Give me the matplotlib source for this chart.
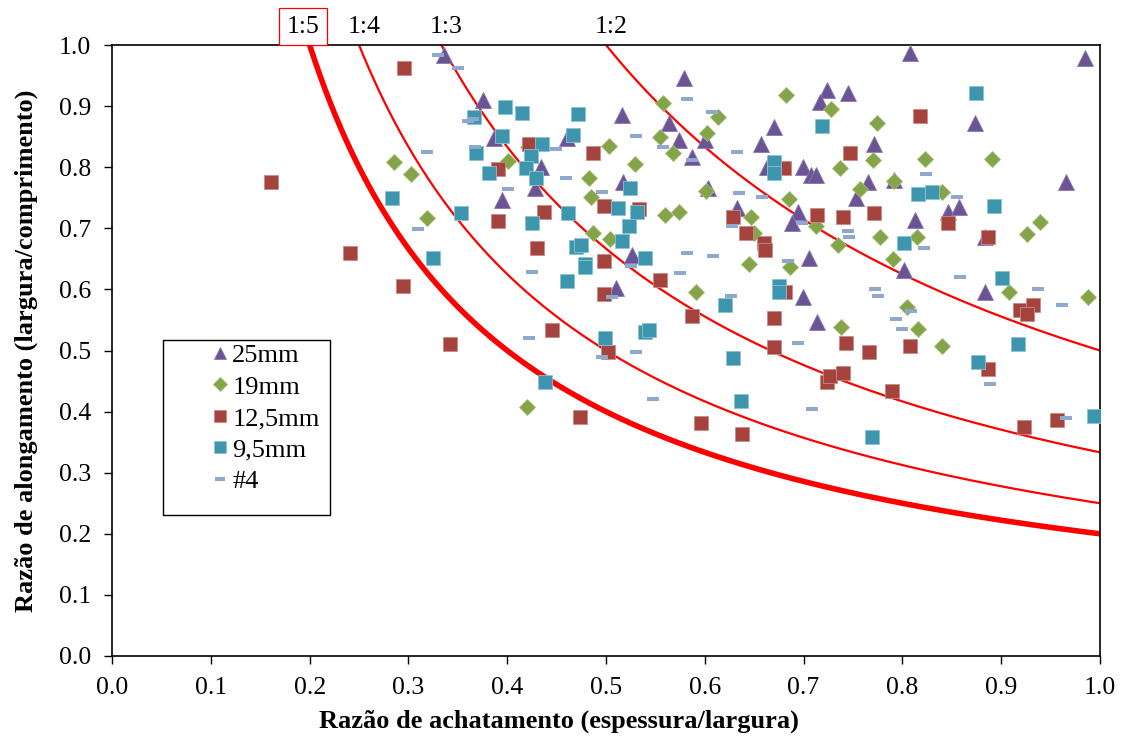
import numpy as np
import matplotlib.pyplot as plt
from matplotlib.patches import Rectangle

plt.rcParams['font.family'] = ['Liberation Serif', 'DejaVu Serif']

# 25mm (triangles)
x25 = [0.336, 0.375, 0.387, 0.461, 0.434, 0.428, 0.395, 0.579, 0.516, 0.564, 0.574, 0.600,
       0.587, 0.670, 0.657, 0.724, 0.717, 0.745, 0.663, 0.699, 0.707, 0.713, 0.517, 0.603,
       0.633, 0.694, 0.688, 0.526, 0.510, 0.705, 0.699, 0.714, 0.808, 0.985, 0.873, 0.771,
       0.765, 0.753, 0.791, 0.966, 0.846, 0.857, 0.813, 0.884, 0.802, 0.884]
y25 = [0.984, 0.910, 0.848, 0.848, 0.800, 0.766, 0.747, 0.946, 0.886, 0.872, 0.845, 0.845,
       0.817, 0.866, 0.838, 0.926, 0.907, 0.922, 0.800, 0.800, 0.788, 0.788, 0.775, 0.766,
       0.734, 0.727, 0.709, 0.657, 0.603, 0.652, 0.588, 0.547, 0.987, 0.979, 0.873, 0.838,
       0.775, 0.750, 0.779, 0.776, 0.727, 0.735, 0.714, 0.685, 0.632, 0.595]

# 19mm (diamonds)
x19 = [0.285, 0.303, 0.319, 0.401, 0.421, 0.503, 0.483, 0.485, 0.487, 0.420, 0.558, 0.682,
       0.728, 0.613, 0.555, 0.602, 0.568, 0.529, 0.737, 0.601, 0.685, 0.560, 0.574, 0.647,
       0.650, 0.713, 0.735, 0.504, 0.645, 0.686, 0.591, 0.738, 0.774, 0.770, 0.823, 0.891,
       0.792, 0.757, 0.840, 0.939, 0.926, 0.777, 0.815, 0.790, 0.908, 0.988, 0.805, 0.816,
       0.840]
y19 = [0.809, 0.789, 0.717, 0.810, 0.833, 0.835, 0.783, 0.752, 0.693, 0.407, 0.905, 0.918,
       0.895, 0.882, 0.850, 0.856, 0.824, 0.806, 0.799, 0.761, 0.748, 0.722, 0.727, 0.719,
       0.693, 0.703, 0.673, 0.683, 0.641, 0.637, 0.596, 0.539, 0.873, 0.812, 0.814, 0.814,
       0.778, 0.765, 0.760, 0.711, 0.690, 0.685, 0.686, 0.649, 0.596, 0.587, 0.572, 0.536,
       0.508]

# 12,5mm (squares)
x125 = [0.161, 0.241, 0.296, 0.391, 0.422, 0.487, 0.391, 0.437, 0.430, 0.295, 0.445, 0.342,
        0.498, 0.498, 0.498, 0.474, 0.502, 0.533, 0.629, 0.642, 0.660, 0.661, 0.680, 0.714,
        0.740, 0.747, 0.555, 0.587, 0.681, 0.670, 0.670, 0.724, 0.727, 0.740, 0.596, 0.638,
        0.818, 0.771, 0.846, 0.887, 0.919, 0.932, 0.926, 0.743, 0.766, 0.808, 0.887, 0.789,
        0.923, 0.956]
y125 = [0.775, 0.660, 0.962, 0.797, 0.838, 0.823, 0.712, 0.727, 0.667, 0.606, 0.533, 0.511,
        0.737, 0.647, 0.593, 0.391, 0.498, 0.732, 0.719, 0.693, 0.676, 0.665, 0.799, 0.722,
        0.719, 0.824, 0.616, 0.556, 0.595, 0.554, 0.505, 0.449, 0.458, 0.464, 0.382, 0.364,
        0.884, 0.725, 0.709, 0.685, 0.567, 0.574, 0.559, 0.513, 0.498, 0.508, 0.469, 0.433,
        0.374, 0.387]

# 9,5mm (squares)
x95 = [0.366, 0.398, 0.415, 0.472, 0.467, 0.395, 0.368, 0.435, 0.424, 0.419, 0.429, 0.382,
       0.283, 0.353, 0.425, 0.462, 0.325, 0.470, 0.475, 0.479, 0.479, 0.461, 0.499, 0.438,
       0.524, 0.512, 0.531, 0.523, 0.516, 0.539, 0.670, 0.670, 0.675, 0.675, 0.719, 0.620,
       0.539, 0.544, 0.629, 0.637, 0.874, 0.816, 0.830, 0.893, 0.802, 0.901, 0.917, 0.877,
       0.769, 0.994]
y95 = [0.882, 0.898, 0.889, 0.887, 0.853, 0.851, 0.823, 0.838, 0.819, 0.799, 0.783, 0.791,
       0.750, 0.725, 0.709, 0.725, 0.652, 0.670, 0.672, 0.642, 0.637, 0.614, 0.520, 0.449,
       0.766, 0.734, 0.727, 0.703, 0.680, 0.652, 0.809, 0.791, 0.605, 0.595, 0.868, 0.574,
       0.531, 0.534, 0.487, 0.417, 0.922, 0.756, 0.760, 0.737, 0.676, 0.618, 0.510, 0.482,
       0.359, 0.392]

# #4 (dashes)
x4 = [0.330, 0.350, 0.360, 0.365, 0.367, 0.319, 0.449, 0.460, 0.401, 0.496, 0.310, 0.425,
      0.422, 0.496, 0.582, 0.607, 0.530, 0.558, 0.587, 0.633, 0.635, 0.658, 0.698, 0.628,
      0.745, 0.746, 0.582, 0.608, 0.684, 0.575, 0.525, 0.506, 0.627, 0.694, 0.530, 0.548,
      0.708, 0.824, 0.855, 0.822, 0.858, 0.772, 0.775, 0.937, 0.962, 0.809, 0.794, 0.800,
      0.889, 0.966]
y4 = [0.984, 0.962, 0.876, 0.879, 0.833, 0.825, 0.830, 0.783, 0.765, 0.760, 0.699, 0.629,
      0.521, 0.490, 0.912, 0.891, 0.851, 0.833, 0.812, 0.825, 0.758, 0.752, 0.709, 0.703,
      0.696, 0.685, 0.660, 0.654, 0.647, 0.627, 0.639, 0.587, 0.590, 0.513, 0.498, 0.421,
      0.405, 0.789, 0.752, 0.667, 0.621, 0.600, 0.590, 0.601, 0.574, 0.565, 0.552, 0.536,
      0.446, 0.389]

# aspect ratio curves y = k / x
ratios = [0.2, 0.25, 1 / 3, 0.5]
ratio_labels = ['1:5', '1:4', '1:3', '1:2']

fig = plt.figure(figsize=(11.26, 7.43), dpi=100)
ax = fig.add_axes([0.0995, 0.1171, 0.8774, 0.8223])

for k, lab in zip(ratios, ratio_labels):
    xs = np.linspace(k, 1.0, 300)
    lw = 4.0 if lab == '1:5' else 1.6
    ax.plot(xs, k / xs, color='#ff0000', lw=lw, zorder=1, solid_capstyle='butt')
    if lab == '1:5':
        ax.text(k - 0.007, 1.03, lab, ha='center', va='center', fontsize=18.5, clip_on=False,
                bbox=dict(boxstyle='square,pad=0.3', fc='white', ec='#ff0000', lw=0.9))
    else:
        ax.text(k + 0.005, 1.03, lab, ha='center', va='center', fontsize=18.5, clip_on=False)

dash = [(-1, -0.38), (1, -0.38), (1, 0.38), (-1, 0.38), (-1, -0.38)]
ax.plot(x25, y25, ls='none', marker='^', ms=11, mfc='#6b5494', mec='#8a78ad', mew=0.6,
        label='25mm', zorder=3)
ax.plot(x19, y19, ls='none', marker='D', ms=8, mfc='#84a449', mec='#a2bd73', mew=0.6,
        label='19mm', zorder=3)
ax.plot(x125, y125, ls='none', marker='s', ms=10.5, mfc='#a5443f', mec='#c88a87', mew=0.6,
        label='12,5mm', zorder=3)
ax.plot(x95, y95, ls='none', marker='s', ms=10.5, mfc='#3e96ae', mec='#8cc3d2', mew=0.6,
        label='9,5mm', zorder=3)
ax.plot(x4, y4, ls='none', marker=dash, ms=9, mfc='#8fa8d0', mec='#8fa8d0', mew=0,
        label='#4', zorder=3)

ax.set_xlim(0, 1.0)
ax.set_ylim(0, 1.0)
ax.set_xticks(np.arange(0, 1.01, 0.1))
ax.set_yticks(np.arange(0, 1.01, 0.1))
ax.xaxis.set_major_formatter(plt.FormatStrFormatter('%.1f'))
ax.yaxis.set_major_formatter(plt.FormatStrFormatter('%.1f'))
ax.tick_params(direction='out', length=6, width=1, labelsize=18.5, pad=9)
for s in ax.spines.values():
    s.set_linewidth(1.2)

ax.set_xlabel('Razão de achatamento (espessura/largura)', fontsize=19, fontweight='bold')
ax.set_ylabel('Razão de alongamento (largura/comprimento)', fontsize=19, fontweight='bold')
ax.xaxis.set_label_coords(0.452, -0.088)
ax.yaxis.set_label_coords(-0.075, 0.5)

# legend box with entries shifted to the right inside it
ax.add_patch(Rectangle((0.0516, 0.2304), 0.169, 0.286, transform=ax.transAxes,
                       fc='white', ec='black', lw=1.0, zorder=5))
leg = ax.legend(loc='upper left', bbox_to_anchor=(0.0987, 0.511), fontsize=19,
                frameon=False, handlelength=0.8, handletextpad=0.06, borderpad=0,
                labelspacing=0.3, markerscale=0.85, borderaxespad=0)
leg.set_zorder(6)

fig.savefig('out.png', dpi=100)
